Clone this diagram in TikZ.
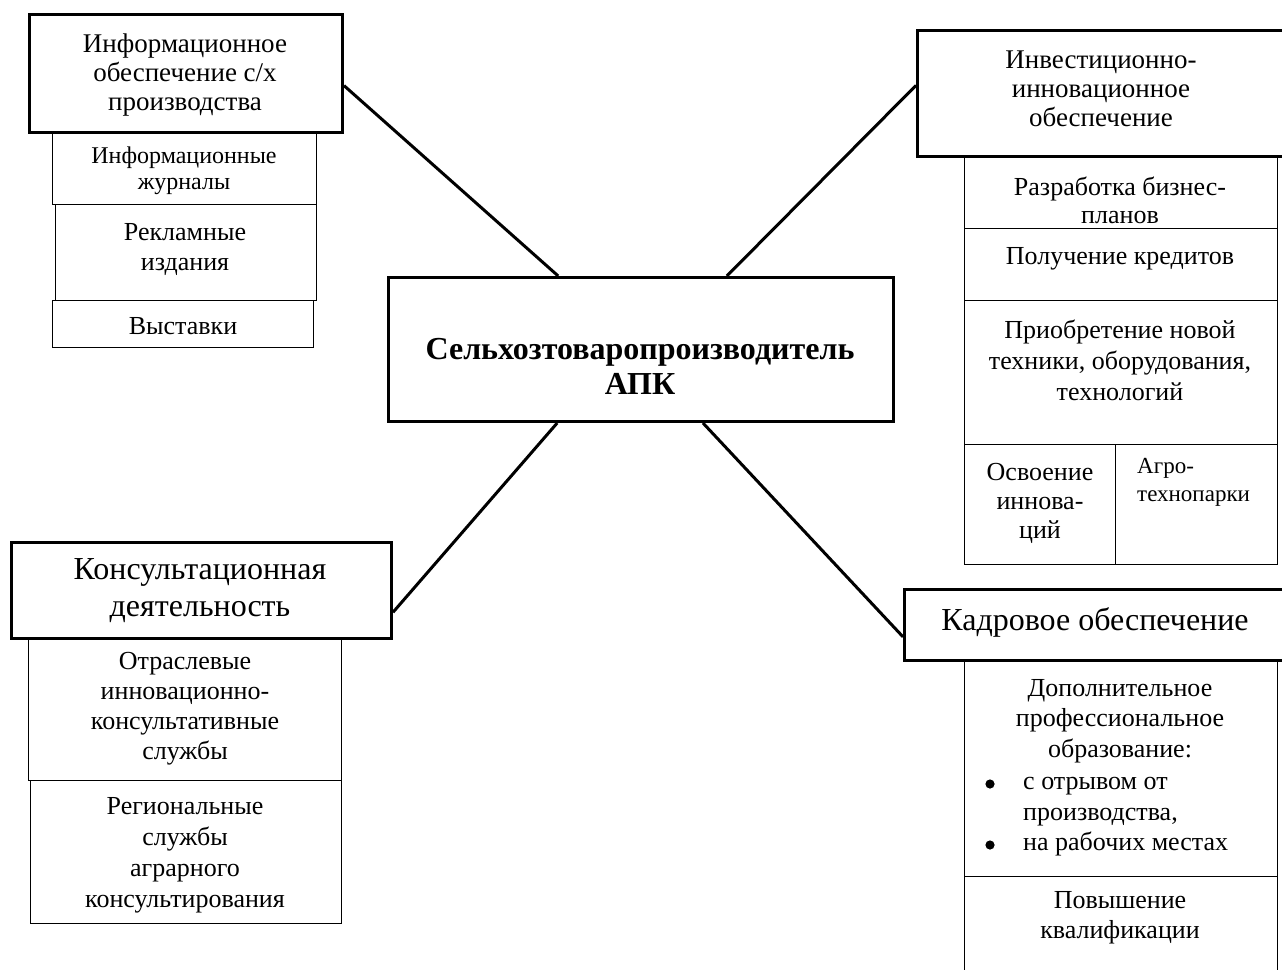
\documentclass[tikz,border=0pt]{standalone}
\usepackage{fontspec}
\setmainfont{Liberation Serif}
\usetikzlibrary{calc}
\tikzset{
  thickbox/.style={draw, line width=3pt, inner sep=0pt, anchor=north west},
  thinbox/.style={draw, line width=1.3pt, inner sep=0pt, anchor=north west},
  link/.style={line width=3pt},
  txt/.style={inner sep=0pt, align=center},
  fhead/.style={font=\fontsize{27}{29}\selectfont},
  fbig/.style={font=\fontsize{32}{37}\selectfont},
  fsub/.style={font=\fontsize{26}{30}\selectfont},
  fsmall/.style={font=\fontsize{24}{26}\selectfont},
}
\newcommand{\bx}[6]{\node[#1, minimum width=#4pt-#2pt, minimum height=#5pt-#3pt] (#6) at (#2,#3) {};}
\begin{document}
\begin{tikzpicture}[x=1pt,y=-1pt]
\useasboundingbox (0,0) rectangle (1282,969);
% centre
\bx{thickbox}{387}{276}{892}{420}{ctr}
\node[txt, font=\bfseries\fontsize{32}{35}\selectfont] (ctrt) at (640,366) {Сельхозтоваропроизводитель\\АПК};
% info block
\bx{thinbox}{52}{131}{316}{204}{j1}
\bx{thinbox}{55}{204}{316}{300}{j2}
\bx{thinbox}{52}{300}{313}{347}{j3}
\bx{thickbox}{28}{13}{341}{131}{info}
\node[txt, fhead] (infot) at (185,75) {Информационное\\обеспечение с/х\\производства};
\node[txt, fsmall] (j1t) at (184,171) {Информационные\\журналы};
\node[txt, fsub] (j2t) at (185,249) {Рекламные\\издания};
\node[txt, fsub] (j3t) at (183,326) {Выставки};
% invest block
\bx{thinbox}{964}{155}{1277}{228}{i1}
\bx{thinbox}{964}{228}{1277}{300}{i2}
\bx{thinbox}{964}{300}{1277}{444}{i3}
\bx{thinbox}{964}{444}{1115}{564}{i4}
\bx{thinbox}{1115}{444}{1277}{564}{i5}
\bx{thickbox}{916}{29}{1295}{155}{inv}
\node[txt, fhead] (invt) at (1101,89) {Инвестиционно-\\инновационное\\обеспечение};
\node[txt, font=\fontsize{26}{28}\selectfont] (i1t) at (1120,200) {Разработка бизнес-\\планов};
\node[txt, fsub] (i2t) at (1120,259) {Получение кредитов};
\node[txt, font=\fontsize{26}{31}\selectfont] (i3t) at (1120,360) {Приобретение новой\\техники, оборудования,\\технологий};
\node[txt, font=\fontsize{26}{29}\selectfont] (i4t) at (1040,503) {Освоение\\иннова-\\ций};
\node[txt, align=left, anchor=north west, font=\fontsize{23}{28}\selectfont] (i5t) at (1137,458) {Агро-\\технопарки};
% kadr block
\bx{thinbox}{964}{659}{1277}{876}{k1}
\bx{thinbox}{964}{876}{1277}{990}{k2}
\bx{thickbox}{903}{588}{1295}{659}{kadr}
\node[txt, fbig] (kadrt) at (1095,622) {Кадровое обеспечение};
\node[txt, font=\fontsize{26}{30.5}\selectfont] (k1t) at (1120,721) {Дополнительное\\профессиональное\\образование:};
\node[txt, align=left, anchor=west, font=\fontsize{26}{30.5}\selectfont] (k1b) at (1023,817) {с отрывом от\\производства,\\на рабочих местах};
\fill (990,784) circle (4.6pt);
\fill (990,845) circle (4.6pt);
\node[txt, font=\fontsize{26}{30}\selectfont] (k2t) at (1120,918) {Повышение\\квалификации};
% consult block
\bx{thinbox}{28}{637}{341}{780}{c1}
\bx{thinbox}{30}{780}{341}{923}{c2}
\bx{thickbox}{10}{541}{390}{637}{cons}
\node[txt, fbig] (const) at (200,591) {Консультационная\\деятельность};
\node[txt, font=\fontsize{26}{30}\selectfont] (c1t) at (185,709) {Отраслевые\\инновационно-\\консультативные\\службы};
\node[txt, font=\fontsize{26}{31}\selectfont] (c2t) at (185,855) {Региональные\\службы\\аграрного\\консультирования};
% connectors
\draw[link] ($(info.north east)!0.6!(info.south east)$) -- ($(ctr.north west)!0.337!(ctr.north east)$);
\draw[link] ($(inv.north west)!0.437!(inv.south west)$) -- ($(ctr.north west)!0.669!(ctr.north east)$);
\draw[link] ($(cons.north east)!0.72!(cons.south east)$) -- ($(ctr.south west)!0.335!(ctr.south east)$);
\draw[link] ($(kadr.north west)!0.66!(kadr.south west)$) -- ($(ctr.south west)!0.622!(ctr.south east)$);
\end{tikzpicture}
\end{document}
